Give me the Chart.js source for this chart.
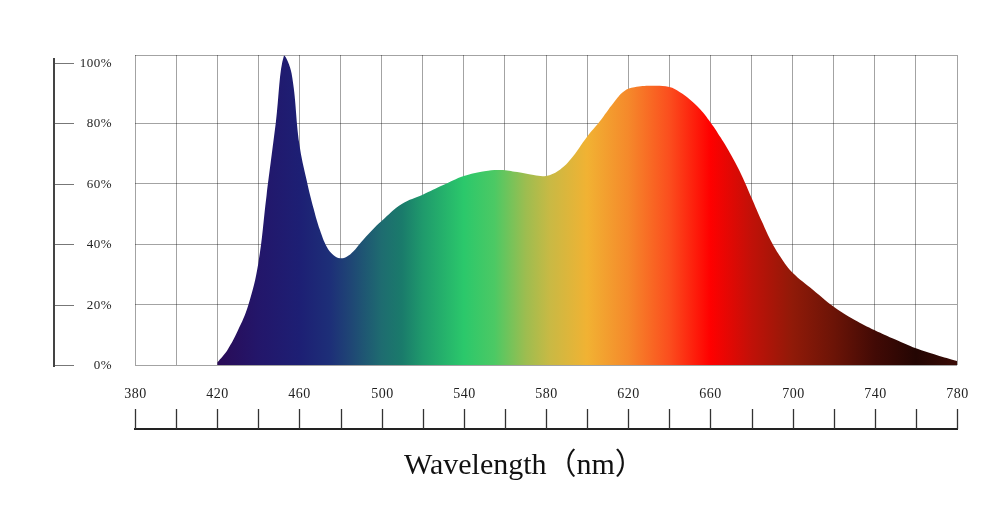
<!DOCTYPE html>
<html>
<head>
<meta charset="utf-8">
<script src="https://cdn.jsdelivr.net/npm/chart.js@4"></script>
<style>
html,body{margin:0;padding:0;background:#fff;}
#wrap{width:1000px;height:512px;position:relative;}
</style>
</head>
<body>
<div id="wrap"><canvas id="spectrum" width="1000" height="512"></canvas></div>
<script>
/* DATA */
const wavelengths = [420,425,430,435,440,444,448.5,452.5,456.2,460,463.5,467,470,473.3,476.5,479.8,483,486.2,490,495,500,510,520,530,540,550,558,566,574,580,586,592,600,606,613,618,623,631,640,645,650,655,660,665,670,675,680,685,690,695,700,710,720,730,740,750,760,770,780];
const intensity = [0.8,5,11.3,19.5,33.6,56,80,102.3,96.4,73,61.2,51.5,44.6,39.1,36.4,35.3,35.8,37.5,40.6,44.3,47.6,53.3,56.3,59.5,62.5,64.1,64.5,63.8,62.8,62.5,64.2,68,75.5,80.4,86.8,90.5,91.8,92.3,91.9,90.3,87.8,84.6,80.3,75.2,69.5,63,55.3,47.5,40.3,34.8,30.5,24.8,19.3,15,11.5,8.4,5.5,3.3,1.3];

const xTicks = [380,400,420,440,460,480,500,520,540,560,580,600,620,640,660,680,700,720,740,760,780];
const xTickLabels = ["380","","420","","460","","500","","540","","580","","620","","660","","700","","740","","780"];
const yTicks = [0,20,40,60,80,100];
const yTickLabels = ["0%","20%","40%","60%","80%","100%"];
const yGridValues = [0,20,40,60,80,102.5];
const axisTitle = "Wavelength（nm）";

/* colour stops of the fill, by wavelength */
const stopNm = [420,440,460,475,485,500,510,520,540,555,570,582,600,620,640,660,680,700,720,740,760,780];
const stopColor = ["#2a0b57","#23166a","#1d1f74","#1d2f78","#1f4675","#1e6c70","#1a7b6b","#1f9a6c","#2bc86b","#4cc964","#9cbd50","#c9b944","#f1b233","#f5892b","#fb4e1e","#ff0000","#c11108","#901a08","#6c1407","#420a05","#240603","#3a0b06"];

const points = wavelengths.map((w,i)=>({x:w, y:intensity[i]}));

function spectrumFill(context){
const chart = context.chart;
const area = chart.chartArea;
if(!area) return null;
const sx = chart.scales.x;
const x0 = sx.getPixelForValue(stopNm[0]);
const x1 = sx.getPixelForValue(stopNm[stopNm.length-1]);
const g = chart.ctx.createLinearGradient(x0,0,x1,0);
stopNm.forEach((nm,i)=>{
g.addColorStop((sx.getPixelForValue(nm)-x0)/(x1-x0), stopColor[i]);
});
return g;
}

/* the detached axes: left % axis and bottom wavelength ruler */
const outerAxes = {
id:"outerAxes",
afterDraw(chart){
const c = chart.ctx;
const sx = chart.scales.x;
const sy = chart.scales.y;
c.save();

// left axis
const ax = 54;
c.strokeStyle = "#444";
c.lineWidth = 2;
c.beginPath();
c.moveTo(ax, sy.getPixelForValue(101.5));
c.lineTo(ax, sy.getPixelForValue(0)+2);
c.stroke();

c.lineWidth = 1;
c.strokeStyle = "#777";
c.fillStyle = "#222";
c.font = "13px 'Liberation Serif', serif";
c.textAlign = "right";
c.textBaseline = "middle";
if("letterSpacing" in c) c.letterSpacing = "0.5px";
yTicks.forEach((v,i)=>{
const y = Math.round(sy.getPixelForValue(v))+0.5;
c.beginPath();
c.moveTo(ax+1,y);
c.lineTo(74,y);
c.stroke();
c.fillText(yTickLabels[i], 112, y);
});

// bottom ruler
const baseY = 429;
c.strokeStyle = "#222";
c.lineWidth = 2;
c.beginPath();
c.moveTo(sx.getPixelForValue(xTicks[0])-1, baseY);
c.lineTo(sx.getPixelForValue(xTicks[xTicks.length-1])+1, baseY);
c.stroke();
c.lineWidth = 1.3;
c.strokeStyle = "#333";
c.font = "14px 'Liberation Serif', serif";
c.textAlign = "center";
c.textBaseline = "middle";
xTicks.forEach((v,i)=>{
const x = Math.round(sx.getPixelForValue(v))+0.5;
c.beginPath();
c.moveTo(x, 409);
c.lineTo(x, baseY);
c.stroke();
if(xTickLabels[i]) c.fillText(xTickLabels[i], x, 394);
});

// title
if("letterSpacing" in c) c.letterSpacing = "0px";
c.fillStyle = "#111";
c.font = "30px 'Liberation Serif', 'Noto Sans CJK SC', serif";
c.textAlign = "left";
c.textBaseline = "alphabetic";
c.fillText(axisTitle, 404, 474);

c.restore();
}
};

const ctx = document.getElementById("spectrum").getContext("2d");

new Chart(ctx,{
type:"line",
data:{
datasets:[{
data:points,
fill:"origin",
backgroundColor:spectrumFill,
borderWidth:0,
pointRadius:0,
tension:0.4
}]
},
options:{
responsive:false,
animation:false,
layout:{padding:{left:135,right:43,top:55,bottom:147}},
plugins:{legend:{display:false},tooltip:{enabled:false}},
scales:{
x:{
type:"linear",
min:380,
max:780,
z:1,
ticks:{display:false,stepSize:20},
grid:{color:"rgba(0,0,0,0.36)",lineWidth:1,drawTicks:false},
border:{display:false}
},
y:{
min:0,
max:102.5,
z:1,
afterBuildTicks(scale){
scale.ticks = yGridValues.map(v=>({value:v}));
},
ticks:{display:false},
grid:{color:"rgba(0,0,0,0.36)",lineWidth:1,drawTicks:false},
border:{display:false}
}
}
},
plugins:[outerAxes]
});
</script>
</body>
</html>
